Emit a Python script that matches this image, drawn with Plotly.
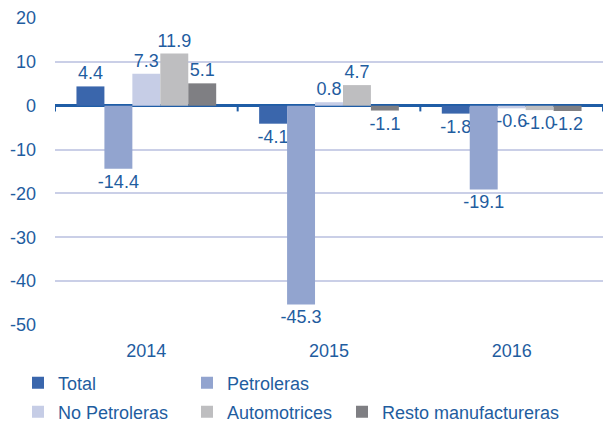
import plotly.graph_objects as go

years = ["2014", "2015", "2016"]
series_names = ["Total", "Petroleras", "No Petroleras", "Automotrices", "Resto manufactureras"]
total = [4.4, -4.1, -1.8]
petroleras = [-14.4, -45.3, -19.1]
no_petroleras = [7.3, 0.8, -0.6]
automotrices = [11.9, 4.7, -1.0]
resto = [5.1, -1.1, -1.2]
y_ticks = [20, 10, 0, -10, -20, -30, -40, -50]
y_tick_labels = ["20", "10", "0", "-10", "-20", "-30", "-40", "-50"]

values = [total, petroleras, no_petroleras, automotrices, resto]
colors = ["#3A66AC", "#92A4CF", "#C6CDE6", "#BEBEC0", "#7F7F83"]
legends = ["legend", "legend", "legend2", "legend2", "legend3"]
text_color = "#1F5D9F"
font = "Liberation Sans, Arial, sans-serif"
W, H = 605, 422

fig = go.Figure()
for name, vals, col, lg in zip(series_names, values, colors, legends):
    fig.add_trace(go.Bar(
        x=years, y=vals, name=name, marker=dict(color=col, line=dict(width=0)),
        text=[f"{v:.1f}" for v in vals], textposition="outside",
        textfont=dict(color=text_color, size=18, family=font),
        constraintext="none", cliponaxis=False, legend=lg,
    ))

# tick marks on the zero line at category boundaries
for xb in [-0.5, 0.5, 1.5, 2.5]:
    fig.add_shape(type="line", xref="x", yref="y", x0=xb, x1=xb, y0=0, y1=-1.3,
                  line=dict(color="#1F5DA6", width=2))

leg_common = dict(orientation="h", font=dict(color=text_color, size=18, family=font),
                  bgcolor="rgba(0,0,0,0)", yanchor="middle", xanchor="left",
                  xref="container", yref="container",
                  itemclick=False, traceorder="normal")

fig.update_layout(
    width=W, height=H,
    margin=dict(l=55, r=2, t=18, b=97),
    paper_bgcolor="white", plot_bgcolor="white",
    barmode="group", bargap=0.235, bargroupgap=0,
    font=dict(family=font, color=text_color, size=18),
    xaxis=dict(type="category", showgrid=False, showline=False, ticks="",
               tickfont=dict(size=18, color=text_color), ticklabelstandoff=13,
               range=[-0.5, 2.5], automargin=False),
    yaxis=dict(range=[-50, 20], tickvals=y_ticks, ticktext=y_tick_labels,
               showgrid=True, gridcolor="#CACFE7",
               gridwidth=1.5, zeroline=True, zerolinecolor="#1F5DA6", zerolinewidth=2.5,
               showline=False, ticks="", tickfont=dict(size=18, color=text_color),
               ticklabelstandoff=18, automargin=False),
    legend=dict(x=18 / W, y=(H - 383) / H, entrywidth=124, **leg_common),
    legend2=dict(x=18 / W, y=(H - 412) / H, entrywidth=124, **leg_common),
    legend3=dict(x=342 / W, y=(H - 412) / H, **leg_common),
    showlegend=True,
)

fig.write_html("out.html", config={"displayModeBar": False},
               post_script="document.body.style.margin='0';")
